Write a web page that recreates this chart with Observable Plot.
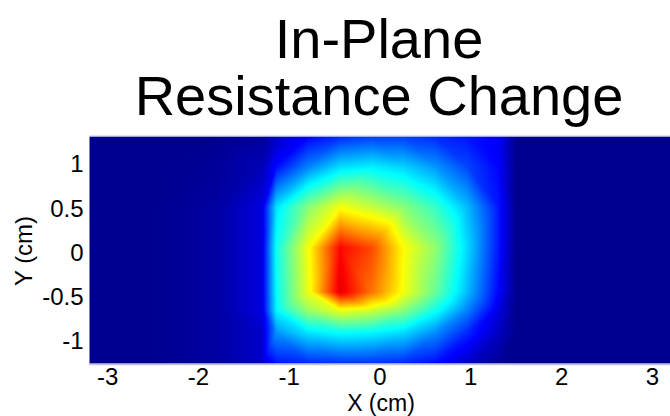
<!DOCTYPE html>
<html>
<head>
<meta charset="utf-8">
<script src="https://cdn.jsdelivr.net/npm/d3@7"></script>
<script src="https://cdn.jsdelivr.net/npm/@observablehq/plot@0.6"></script>
<style>
  html, body { margin: 0; padding: 0; background: #ffffff; }
  #chart { width: 670px; height: 416px; }
</style>
</head>
<body>
<div id="chart"></div>
<script>
// Title and axis labels
const titleLines = ["In-Plane", "Resistance Change"];
const xLabel = "X (cm)";
const yLabel = "Y (cm)";

// Tick values
const xTicks = [-3, -2, -1, 0, 1, 2, 3];
const yTicks = [-1, -0.5, 0, 0.5, 1];

// Axis extents (cm)
const xDomain = [-3.2, 3.2];
const yDomain = [-1.25, 1.32];

// Sample grid positions (cm)
const xNodes = [-3.2, -2.5, -1.8, -1.3, -1.14, -0.79, -0.44, -0.09, 0.26, 0.61, 0.96, 1.31, 1.5, 2.4, 3.2];
const yNodes = [1.32, 0.98, 0.52, 0.06, -0.44, -0.65, -0.9, -1.25];

// Normalised resistance change, one row per yNode (top to bottom)
const rowY132  = [0, 0, 0.00, 0.01, 0.05, 0.11, 0.15, 0.17, 0.17, 0.15, 0.13, 0.10, 0, 0, 0];
const rowY098  = [0, 0, 0.01, 0.04, 0.12, 0.24, 0.33, 0.35, 0.32, 0.26, 0.18, 0.11, 0, 0, 0];
const rowY052  = [0, 0, 0.02, 0.08, 0.34, 0.50, 0.61, 0.56, 0.50, 0.42, 0.30, 0.13, 0, 0, 0];
const rowY006  = [0, 0, 0.02, 0.08, 0.38, 0.61, 0.87, 0.80, 0.62, 0.51, 0.33, 0.13, 0, 0, 0];
const rowYm044 = [0, 0, 0.02, 0.08, 0.37, 0.60, 0.90, 0.76, 0.61, 0.47, 0.30, 0.11, 0, 0, 0];
const rowYm065 = [0, 0, 0.02, 0.08, 0.36, 0.52, 0.60, 0.57, 0.50, 0.38, 0.24, 0.08, 0, 0, 0];
const rowYm090 = [0, 0, 0.02, 0.06, 0.26, 0.34, 0.37, 0.36, 0.33, 0.25, 0.15, 0.05, 0, 0, 0];
const rowYm125 = [0, 0, 0.02, 0.06, 0.13, 0.15, 0.16, 0.16, 0.15, 0.12, 0.06, 0.01, 0, 0, 0];
const rows = [rowY132, rowY098, rowY052, rowY006, rowYm044, rowYm065, rowYm090, rowYm125];

// Jet colour map (MATLAB 64-entry positions)
const jetStops = [0, 7/63, 23/63, 39/63, 55/63, 1];
const jetColors = ["#00008f", "#0000ff", "#00ffff", "#ffff00", "#ff0000", "#800000"];
const jet = d3.scaleLinear().domain(jetStops).range(jetColors).interpolate(d3.interpolateRgb).clamp(true);

const samples = [];
yNodes.forEach((y, i) => xNodes.forEach((x, j) => samples.push({x, y, v: rows[i][j]})));

const font = "'Liberation Sans', Arial, Helvetica, sans-serif";

const svg = Plot.plot({
  width: 670,
  height: 416,
  marginLeft: 89,
  marginRight: 0,
  marginTop: 136,
  marginBottom: 53,
  style: {fontFamily: font, background: "#ffffff", color: "#000000"},
  x: {domain: xDomain},
  y: {domain: yDomain},
  color: {type: "linear", domain: [0, 1], interpolate: t => jet(t)},
  marks: [
    Plot.raster(samples, {
      x: "x", y: "y", fill: "v",
      x1: xDomain[0], x2: xDomain[1], y1: yDomain[0], y2: yDomain[1],
      interpolate: "barycentric"
    }),
    Plot.ruleY([yDomain[0]], {stroke: "#c4c4e0", strokeWidth: 1.5, dy: 1}),
    Plot.ruleY([yDomain[1]], {stroke: "#c4c4e0", strokeWidth: 1, dy: -0.5}),
    Plot.axisX({ticks: xTicks, tickSize: 0, tickPadding: 4, fontSize: 24, label: null, tickFormat: d => String(d)}),
    Plot.axisY({ticks: yTicks, tickSize: 0, tickPadding: 6, fontSize: 24, label: null, tickFormat: d => String(d)})
  ]
});

const s = d3.select(svg);
s.append("text")
  .attr("x", 379).attr("y", 58)
  .attr("text-anchor", "middle")
  .attr("font-family", font).attr("font-size", 56).attr("fill", "#000")
  .text(titleLines[0]);
s.append("text")
  .attr("x", 379).attr("y", 115)
  .attr("text-anchor", "middle")
  .attr("font-family", font).attr("font-size", 56).attr("fill", "#000")
  .text(titleLines[1]);
s.append("text")
  .attr("x", 381).attr("y", 411)
  .attr("text-anchor", "middle")
  .attr("font-family", font).attr("font-size", 23).attr("fill", "#000")
  .text(xLabel);
s.append("text")
  .attr("transform", "translate(32,251) rotate(-90)")
  .attr("text-anchor", "middle")
  .attr("font-family", font).attr("font-size", 24).attr("fill", "#000")
  .text(yLabel);

document.getElementById("chart").appendChild(svg);
</script>
</body>
</html>
